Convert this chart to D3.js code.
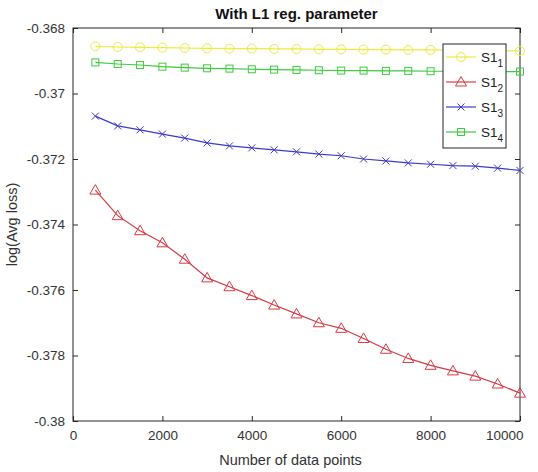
<!DOCTYPE html>
<html>
<head>
<meta charset="utf-8">
<script src="https://cdn.jsdelivr.net/npm/d3@7"></script>
<style>
  body { margin: 0; background: #fff; }
  svg { font-family: "Liberation Sans", Arial, sans-serif; }
</style>
</head>
<body>
<svg id="chart" width="538" height="472"></svg>
<script>
// data
const xPoints = [500, 1000, 1500, 2000, 2500, 3000, 3500, 4000, 4500, 5000,
                 5500, 6000, 6500, 7000, 7500, 8000, 8500, 9000, 9500, 10000];
const s1 = [-0.36856, -0.36858, -0.36859, -0.3686, -0.36861, -0.36862, -0.36863, -0.36863, -0.36864, -0.36864,
            -0.36865, -0.36865, -0.36866, -0.36866, -0.36867, -0.36867, -0.36868, -0.36868, -0.36869, -0.36870];
const s2 = [-0.37295, -0.37373, -0.37419, -0.37456, -0.37506, -0.37563, -0.3759, -0.37617, -0.37646, -0.37673,
            -0.377, -0.37717, -0.37748, -0.37781, -0.37809, -0.3783, -0.37847, -0.37863, -0.37887, -0.37915];
const s3 = [-0.37069, -0.37099, -0.37111, -0.37124, -0.37136, -0.37151, -0.3716, -0.37166, -0.37172, -0.37178,
            -0.37185, -0.3719, -0.372, -0.37206, -0.37212, -0.37216, -0.3722, -0.37222, -0.37228, -0.37235];
const s4 = [-0.36905, -0.3691, -0.36913, -0.36918, -0.36921, -0.36923, -0.36924, -0.36926, -0.36927, -0.36928,
            -0.36929, -0.3693, -0.3693, -0.36931, -0.36931, -0.36932, -0.36932, -0.36933, -0.36933, -0.36933];
const seriesNames = ["1", "2", "3", "4"];
const xTicks = [0, 2000, 4000, 6000, 8000, 10000];
const yTicks = [-0.368, -0.37, -0.372, -0.374, -0.376, -0.378, -0.38];

const series = [
  { sub: seriesNames[0], values: s1, color: "#ecec3c", marker: "circle" },
  { sub: seriesNames[1], values: s2, color: "#d83a44", marker: "triangle" },
  { sub: seriesNames[2], values: s3, color: "#3b3bc8", marker: "cross" },
  { sub: seriesNames[3], values: s4, color: "#3ccc3c", marker: "square" }
];

const svg = d3.select("#chart");
const margin = { left: 73, top: 28, right: 18, bottom: 51 };
const width = 538 - margin.left - margin.right;
const height = 472 - margin.top - margin.bottom;

const x = d3.scaleLinear().domain([0, 10000]).range([0, width]);
const y = d3.scaleLinear().domain([-0.38, -0.368]).range([height, 0]);

const g = svg.append("g").attr("transform", `translate(${margin.left},${margin.top})`);

// axes with inward ticks, MATLAB style box
const axisColor = "#262626";
const fmtY = d => String(+d.toFixed(3)).replace(/^(-?)0\./, "$10.");
const styleAxis = sel => {
  sel.select(".domain").remove();
  sel.selectAll("line").attr("stroke", axisColor);
  sel.selectAll("text").attr("fill", "#333").attr("font-size", "13.5px");
};

const xAxis = g.append("g").attr("transform", `translate(0,${height})`)
  .call(d3.axisBottom(x).tickValues(xTicks).tickSize(-5).tickPadding(9).tickFormat(d3.format("d")))
  .call(styleAxis);
// last label sits flush with the right edge as in the reference
xAxis.selectAll(".tick").filter(d => d === 10000).select("text")
  .attr("text-anchor", "end").attr("x", 3);
g.append("g")
  .call(d3.axisTop(x).tickValues(xTicks).tickSize(-5).tickFormat(""))
  .call(styleAxis);
g.append("g")
  .call(d3.axisLeft(y).tickValues(yTicks).tickSize(-5).tickPadding(8).tickFormat(fmtY))
  .call(styleAxis);
g.append("g").attr("transform", `translate(${width},0)`)
  .call(d3.axisRight(y).tickValues(yTicks).tickSize(-5).tickFormat(""))
  .call(styleAxis);

g.append("rect")
  .attr("width", width).attr("height", height)
  .attr("fill", "none").attr("stroke", axisColor).attr("stroke-width", 1);

const plot = g.append("g");

function drawMarker(sel, type, color) {
  if (type === "circle") {
    sel.append("circle").attr("r", 4.5).attr("fill", "none").attr("stroke", color);
  } else if (type === "triangle") {
    sel.append("path").attr("d", "M0,-5.5L5.5,4L-5.5,4Z").attr("fill", "none").attr("stroke", color);
  } else if (type === "cross") {
    sel.append("path").attr("d", "M-3.5,-3.5L3.5,3.5M-3.5,3.5L3.5,-3.5").attr("stroke", color);
  } else {
    sel.append("rect").attr("x", -3.5).attr("y", -3.5).attr("width", 7).attr("height", 7)
      .attr("fill", "none").attr("stroke", color);
  }
}

const line = d3.line().x((d, i) => x(xPoints[i])).y(d => y(d));

series.forEach(s => {
  plot.append("path")
    .datum(s.values)
    .attr("fill", "none")
    .attr("stroke", s.color)
    .attr("stroke-width", 1.2)
    .attr("d", line);
  plot.selectAll(null)
    .data(s.values)
    .join("g")
    .attr("transform", (d, i) => `translate(${x(xPoints[i])},${y(d)})`)
    .each(function () { drawMarker(d3.select(this), s.marker, s.color); });
});

// legend
const legend = g.append("g").attr("transform", `translate(${443 - margin.left},${44 - margin.top})`);
legend.append("rect")
  .attr("width", 63).attr("height", 104)
  .attr("fill", "#fff").attr("stroke", axisColor);
series.forEach((s, i) => {
  const row = legend.append("g").attr("transform", `translate(0,${13 + i * 25})`);
  row.append("line").attr("x1", 3).attr("x2", 33).attr("stroke", s.color).attr("stroke-width", 1.2);
  drawMarker(row.append("g").attr("transform", "translate(18,0)"), s.marker, s.color);
  const t = row.append("text").attr("x", 38).attr("y", 5).attr("font-size", "13.5px").attr("fill", "#222");
  t.append("tspan").text("S1");
  t.append("tspan").attr("font-size", "10px").attr("dy", 5).text(s.sub);
});

// titles
svg.append("text")
  .attr("x", margin.left + width / 2).attr("y", 19)
  .attr("text-anchor", "middle").attr("font-weight", "bold").attr("font-size", "15px")
  .attr("fill", "#111")
  .text("With L1 reg. parameter");

svg.append("text")
  .attr("x", margin.left + width / 2 - 6).attr("y", 465)
  .attr("text-anchor", "middle").attr("font-size", "14.5px").attr("fill", "#333")
  .text("Number of data points");

svg.append("text")
  .attr("transform", `translate(17,${margin.top + height / 2}) rotate(-90)`)
  .attr("text-anchor", "middle").attr("font-size", "14.5px").attr("fill", "#333")
  .text("log(Avg loss)");
</script>
</body>
</html>
